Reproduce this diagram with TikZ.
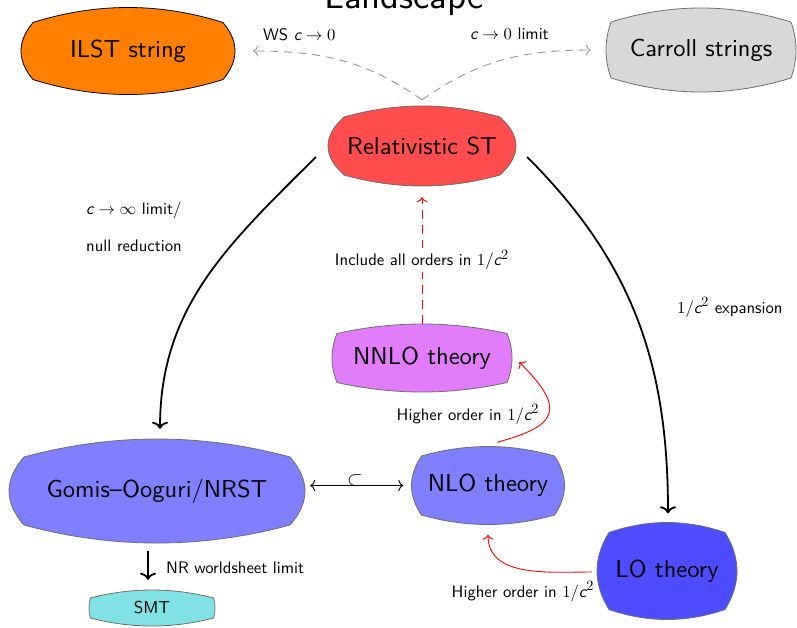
\documentclass[tikz,border=0pt]{standalone}
\usepackage{graphicx}
\usetikzlibrary{arrows.meta,calc}
\definecolor{ilstc}{RGB}{255,128,0}
\definecolor{carrc}{RGB}{216,216,216}
\definecolor{relc}{RGB}{255,77,77}
\definecolor{nnloc}{RGB}{225,125,250}
\definecolor{nloc}{RGB}{128,128,255}
\definecolor{loc}{RGB}{77,77,255}
\definecolor{smtc}{RGB}{128,226,226}
\definecolor{edgegray}{RGB}{150,150,150}
\definecolor{bordergray}{RGB}{110,110,110}
\newcommand\cvar{\textsf{\itshape c}}
\newcommand\sqtwo{^{\scalebox{0.85}{$\textstyle 2$}}}
\newcommand\ntext[1]{\scalebox{2.45}{\fontsize{10}{12}\selectfont\sffamily #1}}
\newcommand\ltext[1]{\scalebox{1.67}{\fontsize{10}{12}\selectfont\sffamily #1}}
% cx cy hw hh topbulge sidebulge fill draw
\newcommand\drawblob[8]{%
  \path[fill=#7,draw=#8,line width=0.8pt]
   (#1-#3,#2-#4) .. controls (#1-#3/3,#2-#4-1.333*#5) and (#1+#3/3,#2-#4-1.333*#5) .. (#1+#3,#2-#4)
   .. controls (#1+#3+1.333*#6,#2-#4/3) and (#1+#3+1.333*#6,#2+#4/3) .. (#1+#3,#2+#4)
   .. controls (#1+#3/3,#2+#4+1.333*#5) and (#1-#3/3,#2+#4+1.333*#5) .. (#1-#3,#2+#4)
   .. controls (#1-#3-1.333*#6,#2+#4/3) and (#1-#3-1.333*#6,#2-#4/3) .. cycle;}
\begin{document}
\begin{tikzpicture}[x=1pt,y=-1pt,
  box/.style={inner sep=0pt},
  lab/.style={inner sep=0pt},
  graydash/.style={draw=edgegray,line width=0.9pt,dash pattern=on 8pt off 6pt,-{To[width=11pt,length=5pt]}},
  reddash/.style={draw=red,line width=0.9pt,dash pattern=on 9pt off 6pt,-{To[width=11pt,length=5pt]}},
  redarr/.style={draw=red,line width=0.9pt,-{To[width=11pt,length=5pt]}},
  thickarr/.style={draw=black,line width=1.8pt,-{To[width=16pt,length=7pt]}},
  thinboth/.style={draw=black,line width=0.9pt,{To[width=11pt,length=5pt]}-{To[width=11pt,length=5pt]}}
]
\useasboundingbox (0,0) rectangle (797,627);

% shapes
\drawblob{128}{51}{95}{28.5}{15}{12}{ilstc}{black}
\drawblob{701}{50}{90}{28}{14}{5}{carrc}{bordergray}
\drawblob{422}{146}{78}{29}{11}{16}{relc}{bordergray}
\drawblob{422}{358}{85}{24.5}{9.5}{5}{nnloc}{bordergray}
\drawblob{157}{491}{133}{34}{18}{15}{nloc}{bordergray}
\drawblob{488}{485.5}{66.5}{29.5}{9.5}{10}{nloc}{bordergray}
\drawblob{667}{571}{58}{38.5}{10}{12}{loc}{bordergray}
\drawblob{152}{608}{61.5}{10}{8}{1.5}{smtc}{bordergray}

% nodes
\node[box,minimum width=214pt,minimum height=87pt] (ilst) at (128,51) {\ntext{ILST string}};
\node[box,minimum width=190pt,minimum height=84pt] (carroll) at (701,50) {\ntext{Carroll strings}};
\node[box,minimum width=188pt,minimum height=80pt] (rel) at (422,146) {\ntext{Relativistic ST}};
\node[box,minimum width=180pt,minimum height=68pt] (nnlo) at (422,358) {\ntext{NNLO theory}};
\node[box,minimum width=296pt,minimum height=104pt] (gomis) at (157,491) {\ntext{Gomis--Ooguri/NRST}};
\node[box,minimum width=153pt,minimum height=78pt] (nlo) at (488,485.5) {\ntext{NLO theory}};
\node[box,minimum width=140pt,minimum height=97pt] (lo) at (667,571) {\ntext{LO theory}};
\node[box,minimum width=126pt,minimum height=36pt] (smt) at (152,608) {\scalebox{1.72}{\fontsize{10}{12}\selectfont\sffamily SMT}};

\node[anchor=base,inner sep=0pt] (title) at (404,8) {\scalebox{3.67}{\fontsize{10}{12}\selectfont\sffamily Landscape}};

% connectors
\draw[graydash] ([yshift=6pt]rel.north) to[out=145,in=0] ([xshift=18pt]ilst.east);
\draw[graydash] ([yshift=6pt]rel.north) to[out=35,in=180] ([xshift=-15pt]carroll.west);
\draw[thickarr] ([xshift=-12pt,yshift=-11pt]rel.west) to[out=225,in=90] ([xshift=3pt,yshift=10pt]gomis.north);
\draw[thickarr] ([xshift=11pt,yshift=-11pt]rel.east) to[out=-45,in=90] ([xshift=1pt,yshift=9pt]lo.north);
\draw[reddash] (nnlo.north) -- ([yshift=-11pt]rel.south);
\draw[redarr] ([xshift=9pt,yshift=4pt]nlo.north) to[out=15,in=-45,looseness=2] ([xshift=7pt,yshift=-4pt]nnlo.east);
\draw[redarr] ([xshift=-5pt,yshift=-1pt]lo.west) to[out=180,in=-90] ([yshift=-10pt]nlo.south);
\draw[thinboth] ($(gomis.east |- nlo.west)+(5,0)$) -- ([xshift=-8pt]nlo.west);
\draw[thickarr] ([xshift=-9pt,yshift=-8pt]gomis.south) -- ([xshift=-4pt,yshift=10pt]smt.north);

% labels
\node[lab,anchor=base west] (l1) at (263,40) {\ltext{WS $\cvar\to 0$}};
\node[lab,anchor=base west] (l2) at (470,39) {\ltext{$\cvar\to 0$ limit}};
\node[lab,anchor=west] (l3) at (86,229) {\ltext{\begin{tabular}{@{}l@{}}$\cvar\to\infty$ limit/\\[9.6pt]null reduction\end{tabular}}};
\node[lab,anchor=base west] (l4) at (677,313) {\ltext{$1/\cvar\sqtwo$ expansion}};
\node[lab,fill=white,inner sep=2pt] (l5) at (422,260) {\ltext{Include all orders in $1/\cvar\sqtwo$}};
\node[lab,anchor=base] (l6) at (468,420) {\ltext{Higher order in $1/\cvar\sqtwo$}};
\node[lab,anchor=base] (l7) at (523,597) {\ltext{Higher order in $1/\cvar\sqtwo$}};
\node[inner sep=0pt] (l8) at (355,480) {\scalebox{2}{$\subset$}};
\node[lab,anchor=base west] (l9) at (166,573) {\ltext{NR worldsheet limit}};
\end{tikzpicture}
\end{document}
